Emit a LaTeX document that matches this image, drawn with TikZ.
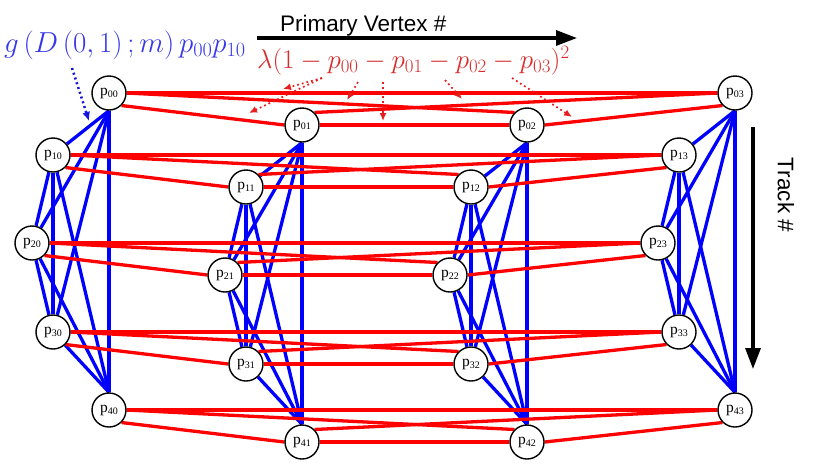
\RequirePackage{fix-cm}
\documentclass[tikz,border=0pt]{standalone}
\usepackage[no-math]{fontspec}
\setmainfont{Liberation Serif}
\newfontfamily\arialfont{Liberation Sans}
\usetikzlibrary{arrows.meta,backgrounds}
\definecolor{fblue}{RGB}{55,55,235}
\definecolor{fred}{RGB}{215,45,45}
\definecolor{dblue}{RGB}{20,20,225}
\definecolor{dred}{RGB}{230,30,30}
\begin{document}
\begin{tikzpicture}[x=1pt,y=-1pt,
  pnode/.style={circle,draw=black,line width=1.4pt,fill=white,minimum size=34pt,inner sep=0pt,font=\fontsize{15.5}{15.5}\selectfont},
  redge/.style={draw=red,line width=3.3pt},
  bedge/.style={draw=blue,line width=3.3pt},
  axisarrow/.style={draw=black,line width=3.2pt,-{Triangle[length=21pt,width=15pt]}},
  reddot/.style={draw=dred,line width=1.7pt,dash pattern=on 1.8pt off 3pt,-{Latex[length=8pt,width=7pt]}},
  bluedot/.style={draw=dblue,line width=2.5pt,dash pattern=on 2pt off 3pt,-{Latex[length=9pt,width=8pt]}},
  axislabel/.style={font=\arialfont\fontsize{22.5}{24}\selectfont,inner sep=0pt}]
\useasboundingbox (0,0) rectangle (830,467);
% nodes
\foreach \c/\cx/\cy in {0/109/0,1/302/32,2/527/32,3/735/0}{
  \foreach \r/\rx/\ry in {0/0/93,1/-56/155,2/-77/243,3/-56/332,4/0/410}{
    \pgfmathsetmacro\px{\cx+\rx}
    \pgfmathsetmacro\py{\cy+\ry}
    \node[pnode] (p\r\c) at (\px,\py) {p\raisebox{-0.4ex}{\fontsize{10}{10}\selectfont\r\c}};
  }
}
\begin{scope}[on background layer]
  % blue: complete graph in each column
  \foreach \c in {0,1,2,3}{
    \foreach \a/\b in {p0\c.south/p1\c, p0\c.south/p2\c, p0\c.south/p3\c, p0\c.south/p4\c.north,
                       p1\c/p2\c, p1\c/p3\c, p1\c/p4\c.north,
                       p2\c/p3\c, p2\c/p4\c.north,
                       p3\c/p4\c.north}{
      \draw[bedge] (\a) -- (\b);
    }
  }
  % red: complete graph in each row
  \foreach \r in {0,1,2,3,4}{
    \draw[redge] (p\r0.east) -- (p\r3.west);
    \draw[redge] (p\r0.south east) -- (p\r1.west);
    \draw[redge] (p\r0.east) -- (p\r2.north west);
    \draw[redge] (p\r1.east) -- (p\r2.west);
    \draw[redge] (p\r1.north east) -- (p\r3.west);
    \draw[redge] (p\r2.east) -- (p\r3.south west);
  }
\end{scope}
% axes
\coordinate (pvs) at (257,38);
\coordinate (pve) at (577,38);
\draw[axisarrow] (pvs) -- (pve);
\node[axislabel,anchor=base west] (pvlab) at (280,31) {Primary Vertex \#};
\coordinate (trs) at (753,127);
\coordinate (tre) at (753,369);
\draw[axisarrow] (trs) -- (tre);
\node[axislabel,rotate=-90] (trlab) at (786,195) {Track \#};
% formulas
\node[anchor=base west,inner sep=0pt,text=fblue,font=\fontsize{28.9}{33}\selectfont] (gform) at (4,52)
  {$g\left(D\left(0,1\right);m\right)p_{00}p_{10}$};
\node[anchor=base west,inner sep=0pt,text=fred,font=\fontsize{27}{31}\selectfont] (lform) at (257,68)
  {$\lambda(1-p_{00}-p_{01}-p_{02}-p_{03})^2$};
% annotation arrows
\coordinate (bd1) at (72,68);
\coordinate (bd2) at (89,121);
\draw[bluedot] (bd1) -- (bd2);
\coordinate (ro1) at (322,78);
\coordinate (rt1) at (283,89);
\coordinate (rt2) at (249,113);
\coordinate (ro3) at (358,82);
\coordinate (rt3) at (347,100);
\coordinate (ro4) at (383,82);
\coordinate (rt4) at (383,121);
\coordinate (ro5) at (445,80);
\coordinate (rt5) at (462,99);
\coordinate (ro6) at (512,78);
\coordinate (rt6) at (572,117);
\draw[reddot] (ro1) -- (rt1);
\draw[reddot] (ro1) -- (rt2);
\draw[reddot] (ro3) -- (rt3);
\draw[reddot] (ro4) -- (rt4);
\draw[reddot] (ro5) -- (rt5);
\draw[reddot] (ro6) -- (rt6);
\end{tikzpicture}
\end{document}
